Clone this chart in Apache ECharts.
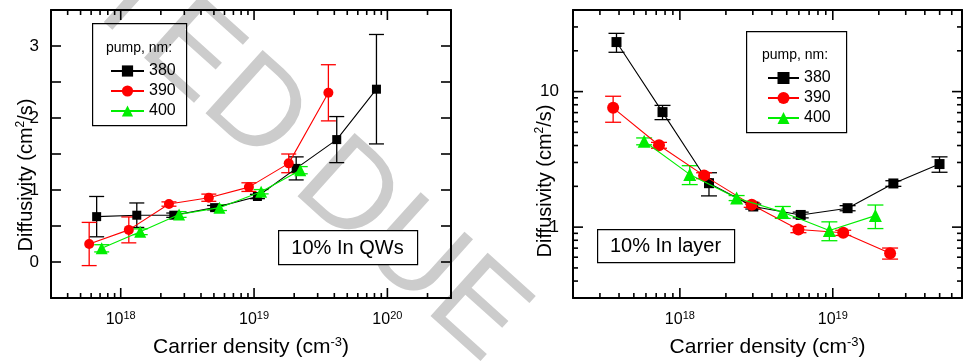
<!DOCTYPE html>
<html><head><meta charset="utf-8">
<script src="https://cdn.jsdelivr.net/npm/echarts@6/dist/echarts.min.js"></script>
<style>html,body{margin:0;padding:0;background:#fff}#c{width:963px;height:363px}</style>
</head><body><div id="c"></div>
<script>
// ---------- data ----------
const pumpNames = ['380', '390', '400'];
const pumpColors = ['#000000', '#ff0000', '#00ee00'];
const pumpSymbols = ['rect', 'circle', 'triangle'];

// Left panel: 10% In QWs (linear y)
const qw380x = [6.6e17, 1.32e18, 2.5e18, 5.06e18, 1.06e19, 2.07e19, 4.17e19, 8.28e19];
const qw380y = [0.63, 0.65, 0.65, 0.755, 0.91, 1.30, 1.70, 2.40];
const qw380e = [0.28, 0.17, 0.03, 0.03, 0.03, 0.16, 0.32, 0.76];
const qw390x = [5.8e17, 1.15e18, 2.3e18, 4.58e18, 9.15e18, 1.82e19, 3.61e19];
const qw390y = [0.25, 0.446, 0.805, 0.893, 1.04, 1.37, 2.35];
const qw390e = [0.30, 0.18, 0.03, 0.05, 0.06, 0.13, 0.39];
const qw400x = [7.2e17, 1.4e18, 2.74e18, 5.5e18, 1.13e19, 2.22e19];
const qw400y = [0.19, 0.42, 0.66, 0.755, 0.976, 1.275];
const qw400e = [0.05, 0.04, 0.04, 0.04, 0.03, 0.05];

// Right panel: 10% In layer (log y)
const ly380x = [3.85e17, 7.7e17, 1.55e18, 3.02e18, 6.17e18, 1.25e19, 2.49e19, 4.99e19];
const ly380y = [23.2, 7.06, 2.11, 1.42, 1.23, 1.38, 2.10, 2.92];
const ly380e = [3.7, 0.85, 0.41, 0.06, 0.06, 0.06, 0.10, 0.38];
const ly390x = [3.66e17, 7.3e17, 1.44e18, 2.95e18, 5.96e18, 1.17e19, 2.37e19];
const ly390y = [7.59, 4.02, 2.40, 1.46, 0.96, 0.908, 0.641];
const ly390e = [1.65, 0.20, 0.12, 0.06, 0.05, 0.04, 0.06];
const ly400x = [5.84e17, 1.16e18, 2.35e18, 4.71e18, 9.5e18, 1.9e19];
const ly400y = [4.30, 2.45, 1.64, 1.29, 0.944, 1.216];
const ly400e = [0.25, 0.39, 0.07, 0.13, 0.15, 0.24];

// axis ranges and tick values
const leftXRange = [3e17, 3e20];
const leftYRange = [-0.5, 3.5];
const rightXRange = [2e17, 7e19];
const rightYRange = [0.3, 40];
const leftYTicks = [0, 0.5, 1, 1.5, 2, 2.5, 3];
const tickMultipliers = [1, 2, 3, 4, 5, 6, 7, 8, 9];
const tickDecadesX = [17, 18, 19, 20];
const tickDecadesY = [-1, 0, 1];

const axisTitleY = 'Diffusivity (cm{sup|2}/s)';
const axisTitleX = 'Carrier density (cm{sup|-3})';
const legendTitle = 'pump, nm:';
const panelNotes = ['10% In QWs', '10% In layer'];
const watermarkText = 'TED DUE';

// ---------- layout ----------
const GRIDS = [
  {left: 51, top: 10, width: 400, height: 290},
  {left: 573, top: 10, width: 389, height: 290}
];

// ---------- helpers ----------
const FONT = 'Liberation Sans, Arial, sans-serif';
function isPow10(v) { const l = Math.log10(v); return Math.abs(l - Math.round(l)) < 1e-6; }
function logTickVals(decs, range) {
  const out = [];
  decs.forEach(d => tickMultipliers.forEach(m => {
    const v = m * Math.pow(10, d);
    if (v > range[0] * 1.0001 && v < range[1] * 0.9999) out.push(v);
  }));
  return out;
}
function powLabel(v) {
  if (!isPow10(v)) return '';
  return '{b|10}{s|' + Math.round(Math.log10(v)) + '}';
}
function axisLine() { return {show: true, onZero: false, lineStyle: {color: '#000', width: 2}}; }
const noTick = {show: false};

function xAxisPair(grid, range) {
  return [
    {gridIndex: grid, type: 'log', logBase: 10, min: range[0], max: range[1], position: 'bottom',
     axisLine: axisLine(), axisTick: noTick, minorTick: {show: false},
     splitLine: {show: false}, minorSplitLine: {show: false},
     axisLabel: {show: true, margin: 12, formatter: powLabel, showMinLabel: false, showMaxLabel: false,
       rich: {b: {fontSize: 16, fontFamily: FONT, color: '#000'},
              s: {fontSize: 11, fontFamily: FONT, color: '#000', padding: [0, 0, 9, 0]}}},
     name: axisTitleX, nameLocation: 'middle', nameGap: 38,
     nameTextStyle: {fontSize: 21, fontFamily: FONT, color: '#000',
       rich: {sup: {fontSize: 13, fontFamily: FONT, color: '#000', padding: [0, 0, 10, 0]}}}},
    {gridIndex: grid, type: 'log', logBase: 10, min: range[0], max: range[1], position: 'top',
     axisLine: axisLine(), axisTick: noTick, minorTick: {show: false},
     splitLine: {show: false}, minorSplitLine: {show: false}, axisLabel: {show: false}}
  ];
}
function errSeries(name, xs, ys, es, color, xi, yi, capW) {
  return {
    type: 'custom', name: name, xAxisIndex: xi, yAxisIndex: yi, silent: true, z: 3,
    data: xs.map((x, i) => [x, ys[i] - es[i], ys[i] + es[i]]),
    encode: {x: 0, y: [1, 2]},
    renderItem: function (params, api) {
      const lo = api.coord([api.value(0), api.value(1)]);
      const hi = api.coord([api.value(0), api.value(2)]);
      const h = capW / 2;
      const st = {stroke: color, lineWidth: 1.3};
      return {type: 'group', children: [
        {type: 'line', shape: {x1: lo[0], y1: lo[1], x2: hi[0], y2: hi[1]}, style: st},
        {type: 'line', shape: {x1: lo[0] - h, y1: lo[1], x2: lo[0] + h, y2: lo[1]}, style: st},
        {type: 'line', shape: {x1: hi[0] - h, y1: hi[1], x2: hi[0] + h, y2: hi[1]}, style: st}
      ]};
    }
  };
}
function lineSeries(k, xs, ys, xi, yi, size) {
  return {
    type: 'line', name: pumpNames[k], xAxisIndex: xi, yAxisIndex: yi, z: 4 + k,
    data: xs.map((x, i) => [x, ys[i]]),
    symbol: pumpSymbols[k], symbolSize: size[k], showSymbol: true,
    lineStyle: {color: pumpColors[k], width: 1.1},
    itemStyle: {color: pumpColors[k]},
    emphasis: {disabled: true}
  };
}
function legendBox(x0, y0, w, h, lx, ly) {
  return [
    {type: 'rect', left: x0, top: y0, z: 50, shape: {width: w, height: h},
     style: {fill: 'rgba(255,255,255,0)', stroke: '#000', lineWidth: 1.2}},
    {type: 'text', left: lx, top: ly, z: 51,
     style: {text: legendTitle, fontSize: 14, fontFamily: FONT, fill: '#000'}}
  ];
}
function noteBox(x0, y0, w, h, text) {
  return [
    {type: 'rect', left: x0, top: y0, z: 50, shape: {width: w, height: h},
     style: {fill: '#fff', stroke: '#000', lineWidth: 1.2}},
    {type: 'text', x: x0 + w / 2, y: y0 + h / 2 + 1, z: 51,
     style: {text: text, fontSize: 20, fontFamily: FONT, fill: '#000', align: 'center', verticalAlign: 'middle'}}
  ];
}
function yTitle(cx, cy) {
  return {type: 'text', x: cx, y: cy, rotation: Math.PI / 2, z: 51,
    style: {text: axisTitleY, fontSize: 20, fontFamily: FONT, fill: '#000', align: 'center', verticalAlign: 'middle',
      rich: {sup: {fontSize: 12, fontFamily: FONT, fill: '#000', padding: [0, 0, 10, 0]}}}};
}
const leftSizes = [9, 10, 12];
const rightSizes = [10, 12, 13];
const wmAngle = -42 * Math.PI / 180;

const baseGraphic = [
  {type: 'text', x: 103, y: -25, rotation: wmAngle, z: -10, silent: true,
   style: {text: watermarkText, fontSize: 124, fontFamily: FONT, fill: '#cccccc', align: 'left', verticalAlign: 'middle'}}
].concat(legendBox(92, 23, 94, 102, 106, 41))
 .concat(legendBox(746, 31, 100, 101, 762, 48))
 .concat(noteBox(278, 230, 139, 34, panelNotes[0]))
 .concat(noteBox(597, 229, 137, 33, panelNotes[1]))
 .concat([yTitle(26, 175), yTitle(545, 181)]);

const option = {
  animation: false,
  backgroundColor: '#fff',
  grid: GRIDS,
  xAxis: xAxisPair(0, leftXRange).concat(xAxisPair(1, rightXRange)),
  yAxis: [
    {gridIndex: 0, type: 'value', min: leftYRange[0], max: leftYRange[1], interval: 0.5, position: 'left',
     axisLine: axisLine(), axisTick: noTick, splitLine: {show: false},
     axisLabel: {margin: 12, fontSize: 17, fontFamily: FONT, color: '#000',
       formatter: v => (Math.abs(v - Math.round(v)) < 1e-9 ? String(Math.round(v)) : '')}},
    {gridIndex: 0, type: 'value', min: leftYRange[0], max: leftYRange[1], interval: 0.5, position: 'right',
     axisLine: axisLine(), axisTick: noTick, splitLine: {show: false}, axisLabel: {show: false}},
    {gridIndex: 1, type: 'log', logBase: 10, min: rightYRange[0], max: rightYRange[1], position: 'left',
     axisLine: axisLine(), axisTick: noTick, minorTick: {show: false}, splitLine: {show: false}, minorSplitLine: {show: false},
     axisLabel: {margin: 14, fontSize: 17, fontFamily: FONT, color: '#000', showMinLabel: false, showMaxLabel: false,
       formatter: v => (isPow10(v) ? String(Math.pow(10, Math.round(Math.log10(v)))) : '')}},
    {gridIndex: 1, type: 'log', logBase: 10, min: rightYRange[0], max: rightYRange[1], position: 'right',
     axisLine: axisLine(), axisTick: noTick, minorTick: {show: false}, splitLine: {show: false}, minorSplitLine: {show: false},
     axisLabel: {show: false}}
  ],
  legend: [
    {left: 105, top: 58, orient: 'vertical', itemWidth: 33, itemHeight: 14, itemGap: 4, selectedMode: false,
     data: pumpNames, textStyle: {fontSize: 16, fontFamily: FONT, color: '#000'}},
    {left: 762, top: 65, orient: 'vertical', itemWidth: 31, itemHeight: 15, itemGap: 4, selectedMode: false,
     data: pumpNames, textStyle: {fontSize: 16, fontFamily: FONT, color: '#000'}}
  ],
  graphic: baseGraphic,
  series: [
    errSeries('e380a', qw380x, qw380y, qw380e, pumpColors[0], 0, 0, 15),
    lineSeries(0, qw380x, qw380y, 0, 0, leftSizes),
    errSeries('e390a', qw390x, qw390y, qw390e, pumpColors[1], 0, 0, 15),
    lineSeries(1, qw390x, qw390y, 0, 0, leftSizes),
    errSeries('e400a', qw400x, qw400y, qw400e, pumpColors[2], 0, 0, 15),
    lineSeries(2, qw400x, qw400y, 0, 0, leftSizes),
    errSeries('e380b', ly380x, ly380y, ly380e, pumpColors[0], 2, 2, 16),
    lineSeries(0, ly380x, ly380y, 2, 2, rightSizes),
    errSeries('e390b', ly390x, ly390y, ly390e, pumpColors[1], 2, 2, 16),
    lineSeries(1, ly390x, ly390y, 2, 2, rightSizes),
    errSeries('e400b', ly400x, ly400y, ly400e, pumpColors[2], 2, 2, 16),
    lineSeries(2, ly400x, ly400y, 2, 2, rightSizes)
  ]
};
const chart = echarts.init(document.getElementById('c'), null, {renderer: 'canvas'});
chart.setOption(option);

// ---------- inward frame ticks ----------
// position from the chart's own conversion; fall back to the same axis mapping if unavailable
function fallbackPx(g, xr, yr, logY, p) {
  const G = GRIDS[g];
  const fx = (Math.log10(p[0]) - Math.log10(xr[0])) / (Math.log10(xr[1]) - Math.log10(xr[0]));
  const fy = logY ? (Math.log10(p[1]) - Math.log10(yr[0])) / (Math.log10(yr[1]) - Math.log10(yr[0]))
                  : (p[1] - yr[0]) / (yr[1] - yr[0]);
  return [G.left + fx * G.width, G.top + (1 - fy) * G.height];
}
function toPx(g, xi, yi, xr, yr, logY, p) {
  let r = null;
  try { r = chart.convertToPixel({xAxisIndex: xi, yAxisIndex: yi}, p); } catch (e) { r = null; }
  if (!r || !isFinite(r[0]) || !isFinite(r[1])) r = fallbackPx(g, xr, yr, logY, p);
  return r;
}
function frameTicks() {
  const els = [];
  const W = 1.6;
  function tickRect(x, y, w, h) {
    els.push({type: 'rect', z: 60, silent: true, shape: {x: x, y: y, width: w, height: h}, style: {fill: '#000'}});
  }
  function addX(g, xi, yi, vals, xr, yr, logY) {
    vals.forEach(v => {
      const len = isPow10(v) ? 10 : 5;
      const b = toPx(g, xi, yi, xr, yr, logY, [v, yr[0]]);
      const t = toPx(g, xi, yi, xr, yr, logY, [v, yr[1]]);
      tickRect(b[0] - W / 2, b[1] - len, W, len);
      tickRect(t[0] - W / 2, t[1], W, len);
    });
  }
  function addY(g, xi, yi, vals, xr, yr, logY) {
    vals.forEach(v => {
      const len = logY ? (isPow10(v) ? 10 : 5) : 10;
      const l = toPx(g, xi, yi, xr, yr, logY, [xr[0], v]);
      const r = toPx(g, xi, yi, xr, yr, logY, [xr[1], v]);
      tickRect(l[0], l[1] - W / 2, len, W);
      tickRect(r[0] - len, r[1] - W / 2, len, W);
    });
  }
  addX(0, 0, 0, logTickVals(tickDecadesX, leftXRange), leftXRange, leftYRange, false);
  addY(0, 0, 0, leftYTicks, leftXRange, leftYRange, false);
  addX(1, 2, 2, logTickVals(tickDecadesX, rightXRange), rightXRange, rightYRange, true);
  addY(1, 2, 2, logTickVals(tickDecadesY, rightYRange), rightXRange, rightYRange, true);
  try {
    chart.setOption({graphic: {elements: baseGraphic.concat(els)}});
  } catch (e) {}
}
frameTicks();
</script>
</body></html>
